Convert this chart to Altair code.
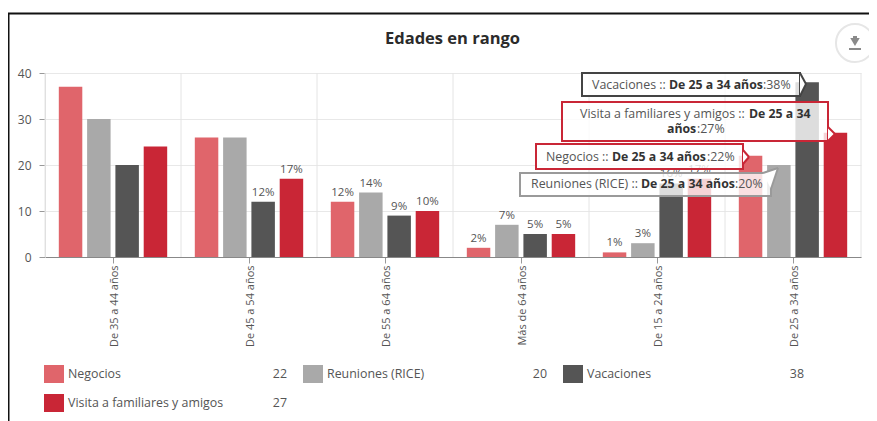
import altair as alt
import pandas as pd

categories = ["De 35 a 44 años", "De 45 a 54 años", "De 55 a 64 años",
              "Más de 64 años", "De 15 a 24 años", "De 25 a 34 años"]
series = ["Negocios", "Reuniones (RICE)", "Vacaciones", "Visita a familiares y amigos"]
colors = ["#e0656b", "#a9a9a9", "#555555", "#c92636"]
negocios = [37, 26, 12, 2, 1, 22]
reuniones = [30, 26, 14, 7, 3, 20]
vacaciones = [20, 12, 9, 5, 16, 38]
visita = [24, 17, 10, 5, 17, 27]
legend_values = [22, 20, 38, 27]
y_ticks = [0, 10, 20, 30, 40]
label_limit = 17

FONT = "Open Sans"
TXT = "#555555"
OX, OY = 45, 73
W, H = 816, 184


def px(v):
    return alt.value(v - OX)


def py(v):
    return alt.value(v - OY)


rows = []
for s, vals in zip(series, [negocios, reuniones, vacaciones, visita]):
    for c, v in zip(categories, vals):
        rows.append({"cat": c, "serie": s, "val": v, "lab": f"{v}%"})
df = pd.DataFrame(rows)

x_enc = alt.X("cat:N", sort=categories, title=None,
              scale=alt.Scale(paddingInner=0, paddingOuter=0),
              axis=alt.Axis(labelAngle=-90, labelAlign="right", labelBaseline="middle",
                            labelFont=FONT, labelFontSize=11, labelColor=TXT, labelPadding=2,
                            labelOffset=2, tickColor="#999999", tickSize=6,
                            domainColor="#888888", labelOverlap=False, grid=False))
y_enc = alt.Y("val:Q", title=None, scale=alt.Scale(domain=[0, 40], nice=False),
              axis=alt.Axis(values=y_ticks, labelFont=FONT, labelFontSize=12, labelColor=TXT,
                            labelPadding=8, tickColor="#999999", tickSize=6,
                            domainColor="#dddddd", gridColor="#e8e8e8", grid=True))
xo = alt.XOffset("serie:N", sort=series,
                 scale=alt.Scale(paddingInner=0.17, paddingOuter=0.488))

bars = alt.Chart(df).mark_bar(stroke=None).encode(
    x=x_enc, y=y_enc, xOffset=xo,
    color=alt.Color("serie:N", sort=series, legend=None,
                    scale=alt.Scale(domain=series, range=colors)))

labels = alt.Chart(df[df.val <= label_limit]).mark_text(
    font=FONT, fontSize=11.5, color=TXT, dy=-9).encode(
    x=alt.X("cat:N", sort=categories, title=None), y=alt.Y("val:Q"), xOffset=xo, text="lab:N")


def vgrid():
    out = []
    for i in range(7):
        xv = OX + i * W / 6
        out.append(alt.Chart().mark_rule(color="#e4e4e4", strokeWidth=1).encode(
            x=px(xv), y=py(OY), y2=py(OY + H)))
    return out


def text(s, x, y, bold=False, size=None, color=None, align="left"):
    size = size or (12.3 if bold else 12.4)
    color = color or ("#333333" if bold else TXT)
    return alt.Chart().mark_text(text=s, font=FONT, fontSize=size, color=color, align=align,
                                 baseline="middle", fontWeight="bold" if bold else "normal").encode(
        x=px(x), y=py(y))


def rule(x1, y1, x2, y2, color, w=2):
    return alt.Chart().mark_rule(color=color, strokeWidth=w).encode(
        x=px(x1), y=py(y1), x2=px(x2), y2=py(y2))


def tooltip(x1, y1, x2, y2, tip, base1, base2, color):
    fill = alt.Chart().mark_rect(fill="white", fillOpacity=0.8, stroke=color, strokeWidth=2).encode(
        x=px(x1), x2=px(x2), y=py(y1), y2=py(y2))
    xm = base2[0]
    if base1[0] == base2[0]:
        pts = [{"x": xm - OX, "y": base1[1] - OY, "y2": base2[1] - OY},
               {"x": tip[0] - OX, "y": tip[1] - OY, "y2": tip[1] - OY}]
    else:
        frac = (xm - base1[0]) / (tip[0] - base1[0])
        ym = base1[1] + frac * (tip[1] - base1[1])
        pts = [{"x": base1[0] - OX, "y": base1[1] - OY, "y2": base1[1] - OY},
               {"x": xm - OX, "y": ym - OY, "y2": base2[1] - OY},
               {"x": tip[0] - OX, "y": tip[1] - OY, "y2": tip[1] - OY}]
    wedge = alt.Chart(pd.DataFrame(pts)).mark_area(color="white", opacity=1).encode(
        x=alt.X("x:Q", scale=None, axis=None), y=alt.Y("y:Q", scale=None, axis=None),
        y2=alt.Y2("y2:Q"))
    return [fill, wedge, rule(base1[0], base1[1], tip[0], tip[1], color),
            rule(base2[0], base2[1], tip[0], tip[1], color)]


over = []
# Reuniones tooltip
over += tooltip(520, 173, 771, 196, (778, 168), (763, 173), (771, 189), "#9a9a9a")
over += [text("Reuniones (RICE) :: ", 531, 184), text("De 25 a 34 años", 641, 184, True),
         text(":20%", 735, 184)]
# Negocios tooltip
over += tooltip(536, 144, 743, 169, (749, 157), (743, 150), (743, 164), "#c92636")
over += [text("Negocios :: ", 546, 157), text("De 25 a 34 años", 612, 157, True),
         text(":22%", 707, 157)]
# Visita tooltip
over += tooltip(562, 102, 828, 141, (835, 134), (828, 127), (828, 141), "#c92636")
over += [text("Visita a familiares y amigos :: ", 580, 114), text("De 25 a 34", 749, 114, True),
         text("años", 667, 129, True), text(":27%", 697, 129)]
# Vacaciones tooltip
over += tooltip(582, 73, 800, 96, (806, 84), (800, 73), (800, 96), "#444444")
over += [text("Vacaciones :: ", 592, 85), text("De 25 a 34 años", 669, 85, True),
         text(":38%", 763, 85)]

# title
over.append(text("Edades en rango", 452.5, 39, True, 16.5, "#2b2b2b", "center"))

# download button
over.append(alt.Chart().mark_point(shape="circle", size=1450, fill="white", fillOpacity=1,
                                   stroke="#e6e6e6", strokeWidth=2).encode(x=px(855), y=py(43)))
over.append(alt.Chart().mark_point(shape="triangle-down", size=90, fill="#8a8a8a", filled=True,
                                   stroke=None, opacity=1).encode(x=px(855), y=py(42)))
over.append(rule(855, 36, 855, 40, "#8a8a8a", 4))
over.append(rule(849, 49, 861, 49, "#8a8a8a", 2))

# hand-set legend
lx = [(44, 68, 287, 374), (303, 327, 547, 374), (563, 587, 804, 374), (44, 68, 287, 403)]
for (sx, tx, vx, ly), s, c, v in zip(lx, series, colors, legend_values):
    over.append(alt.Chart().mark_rect(fill=c).encode(
        x=px(sx), x2=px(sx + 20), y=py(ly - 9), y2=py(ly + 9)))
    over.append(text(s, tx, ly))
    over.append(text(str(v), vx, ly, align="right"))

# page frame
over.append(rule(8.5, 13, 8.5, 421, "#111111", 2))
over.append(rule(8, 13.5, 877, 13.5, "#111111", 2))

chart = alt.layer(*vgrid(), bars, labels, *over).properties(
    width=W, height=H,
    padding={"left": OX - 8, "top": OY - 8, "right": 8, "bottom": 413 - (OY - 8) - H},
    autosize=alt.AutoSizeParams(type="none"),
    background="white",
).configure_view(stroke=None)

chart.save("out.html", embed_options={"renderer": "svg", "actions": False})
